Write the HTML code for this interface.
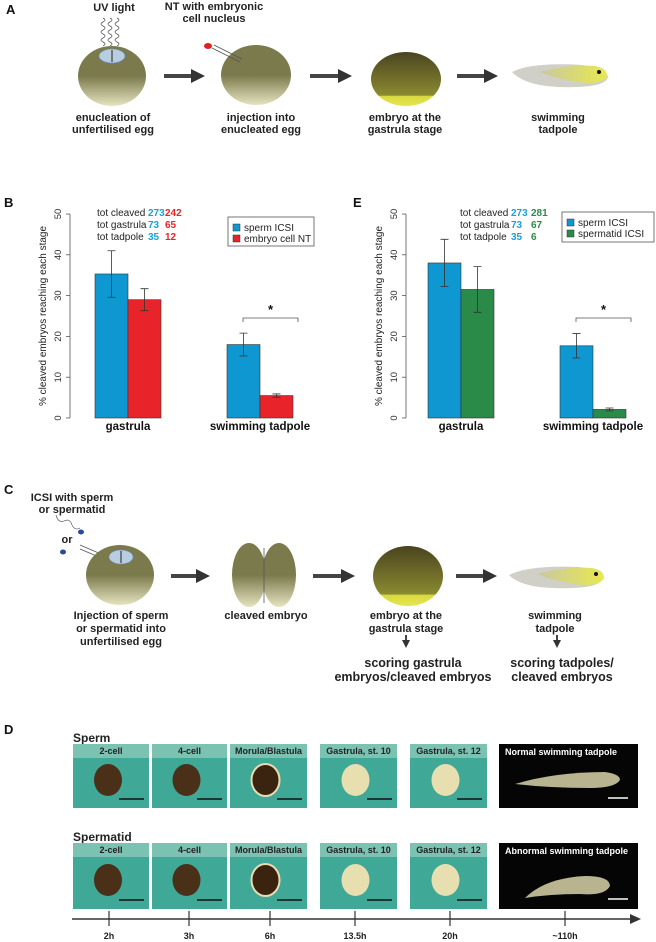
<!DOCTYPE html>
<html><head><meta charset="utf-8"><style>
html,body{margin:0;padding:0;background:#fff}
svg{display:block}
text{font-family:"Liberation Sans Narrow","Liberation Sans",sans-serif}
.lb{font-weight:bold;font-size:11px;fill:#222}
.pl{font-family:"Liberation Sans",sans-serif;font-weight:bold;font-size:13px;fill:#111}
.ax{font-family:"Liberation Sans",sans-serif;font-size:9.5px;fill:#333}
.st{font-family:"Liberation Sans",sans-serif;font-size:10px;fill:#222}
.ph{font-weight:bold;font-size:9px;fill:#222}
</style></head><body>
<svg id="fig" width="656" height="942" viewBox="0 0 656 942" xmlns="http://www.w3.org/2000/svg">
<defs>
<linearGradient id="egg" x1="0" y1="0" x2="0" y2="1"><stop offset="0" stop-color="#7b7a4c"/><stop offset="0.5" stop-color="#7b7a4c"/><stop offset="1" stop-color="#e6e4c0"/></linearGradient>
<linearGradient id="gas" x1="0" y1="0" x2="0" y2="1"><stop offset="0" stop-color="#4a4420"/><stop offset="0.8" stop-color="#8a8a30"/><stop offset="0.82" stop-color="#d8d840"/><stop offset="1" stop-color="#e6e650"/></linearGradient>
<linearGradient id="tad" x1="0" y1="0" x2="1" y2="0"><stop offset="0" stop-color="#c8c8a0"/><stop offset="1" stop-color="#e8e850"/></linearGradient>
<marker id="ah" markerUnits="userSpaceOnUse" markerWidth="14" markerHeight="14" refX="2" refY="7" orient="auto"><path d="M0,0 L14,7 L0,14 z" fill="#333"/></marker>
<marker id="ah2" markerUnits="userSpaceOnUse" markerWidth="8" markerHeight="8" refX="2" refY="4" orient="auto"><path d="M0,0 L8,4 L0,8 z" fill="#333"/></marker>
</defs>

<!-- Panel A -->
<g>
<text class="pl" x="6" y="14">A</text>
<text class="lb" x="114" y="11" text-anchor="middle">UV light</text>
<text class="lb" x="214" y="10" text-anchor="middle">NT with embryonic</text>
<text class="lb" x="214" y="22" text-anchor="middle">cell nucleus</text>
<path d="M103,18 q4,2 0,4 q-4,2 0,4 q4,2 0,4 q-4,2 0,4 q4,2 0,4 q-4,2 0,4 q4,2 0,4 M110,18 q4,2 0,4 q-4,2 0,4 q4,2 0,4 q-4,2 0,4 q4,2 0,4 q-4,2 0,4 q4,2 0,4 M117,18 q4,2 0,4 q-4,2 0,4 q4,2 0,4 q-4,2 0,4 q4,2 0,4 q-4,2 0,4 q4,2 0,4" fill="none" stroke="#555" stroke-width="0.7"/>
<ellipse cx="112" cy="76" rx="34" ry="30" fill="url(#egg)"/>
<ellipse cx="112" cy="56" rx="13" ry="7" fill="#b8cde0" stroke="#6a8fc0" stroke-width="0.6"/>
<line x1="112" y1="50" x2="112" y2="62" stroke="#222" stroke-width="1"/>
<ellipse cx="256" cy="75" rx="35" ry="30" fill="url(#egg)"/>
<line x1="212" y1="48" x2="240" y2="62" stroke="#555" stroke-width="0.8"/><line x1="214" y1="45" x2="242" y2="59" stroke="#555" stroke-width="0.8"/>
<ellipse cx="208" cy="46" rx="4" ry="3" fill="#e02020"/>
<ellipse cx="406" cy="79" rx="35" ry="27" fill="url(#gas)"/>
<path d="M512,72 q20,-10 70,-7 q25,3 26,12 q-2,9 -30,10 q-50,2 -66,-15z" fill="#d0d0c8"/>
<path d="M540,72 q30,-8 55,-6 q12,2 12,10 q-3,7 -20,7 q-25,-2 -47,-11z" fill="url(#tad)"/>
<circle cx="599" cy="72" r="2" fill="#111"/>
<g stroke="#444" stroke-width="4" marker-end="url(#ah)"><line x1="164" y1="76" x2="193" y2="76"/><line x1="310" y1="76" x2="340" y2="76"/><line x1="457" y1="76" x2="486" y2="76"/></g>
<g class="lb" text-anchor="middle">
<text x="113" y="121">enucleation of</text><text x="113" y="133">unfertilised egg</text>
<text x="261" y="121">injection into</text><text x="261" y="133">enucleated egg</text>
<text x="405" y="121">embryo at the</text><text x="405" y="133">gastrula stage</text>
<text x="558" y="121">swimming</text><text x="558" y="133">tadpole</text>
</g>
</g>

<g id="chartB"></g>
<g id="chartE"></g>

<!-- Panel C -->
<g>
<text class="pl" x="4" y="494">C</text>
<text class="lb" x="72" y="501" text-anchor="middle">ICSI with sperm</text>
<text class="lb" x="72" y="513" text-anchor="middle">or spermatid</text>
<path d="M56,515 q2,8 8,6 q6,-3 8,4 q3,6 8,3" fill="none" stroke="#444" stroke-width="0.6"/>
<ellipse cx="81" cy="532" rx="3" ry="2.5" fill="#2a4a9a"/>
<text class="lb" x="67" y="543" text-anchor="middle">or</text>
<ellipse cx="63" cy="552" rx="3" ry="2.5" fill="#2a4a9a"/>
<line x1="80" y1="545" x2="108" y2="557" stroke="#555" stroke-width="0.8"/><line x1="80" y1="549" x2="106" y2="560" stroke="#555" stroke-width="0.8"/>
<ellipse cx="120" cy="575" rx="34" ry="30" fill="url(#egg)"/>
<ellipse cx="121" cy="557" rx="12" ry="7" fill="#b8cde0" stroke="#6a8fc0" stroke-width="0.6"/>
<line x1="121" y1="551" x2="121" y2="563" stroke="#222"/>
<ellipse cx="249" cy="575" rx="17" ry="32" fill="url(#egg)"/>
<ellipse cx="279" cy="575" rx="17" ry="32" fill="url(#egg)"/>
<line x1="264" y1="548" x2="264" y2="603" stroke="#555" stroke-width="0.8"/>
<ellipse cx="408" cy="576" rx="35" ry="30" fill="url(#gas)"/>
<path d="M509,575 q20,-10 70,-8 q25,3 24,11 q-2,9 -30,10 q-50,2 -64,-13z" fill="#d0d0c8"/>
<path d="M537,574 q30,-8 55,-6 q12,2 12,10 q-3,7 -20,7 q-25,-2 -47,-11z" fill="url(#tad)"/>
<circle cx="596" cy="574" r="2" fill="#111"/>
<g stroke="#444" stroke-width="4" marker-end="url(#ah)"><line x1="171" y1="576" x2="198" y2="576"/><line x1="313" y1="576" x2="343" y2="576"/><line x1="456" y1="576" x2="485" y2="576"/></g>
<g stroke="#444" stroke-width="2" marker-end="url(#ah2)"><line x1="406" y1="635" x2="406" y2="642"/><line x1="557" y1="635" x2="557" y2="642"/></g>
<g class="lb" text-anchor="middle">
<text x="121" y="619">Injection of sperm</text><text x="121" y="632">or spermatid into</text><text x="121" y="645">unfertilised egg</text>
<text x="266" y="619">cleaved embryo</text>
<text x="406" y="619">embryo at the</text><text x="406" y="632">gastrula stage</text>
<text x="555" y="619">swimming</text><text x="555" y="632">tadpole</text>
</g>
<g font-weight="bold" font-size="12.5" fill="#222" text-anchor="middle">
<text x="413" y="667">scoring gastrula</text><text x="413" y="681">embryos/cleaved embryos</text>
<text x="562" y="667">scoring tadpoles/</text><text x="562" y="681">cleaved embryos</text>
</g>
</g>

<!-- Panel D -->
<g id="panelD">
<text class="pl" x="4" y="734">D</text>
<text x="73" y="742" font-weight="bold" font-size="12" fill="#222">Sperm</text>
<text x="73" y="841" font-weight="bold" font-size="12" fill="#222">Spermatid</text>
<line x1="72" y1="919" x2="636" y2="919" stroke="#333" stroke-width="1.5"/>
<path d="M630,914 L641,919 L630,924z" fill="#333"/>
</g>
</svg>
<script>
// Chart B data
const catsB = ["gastrula", "swimming tadpole"];
const spermB = [35.3, 18.0];
const spermErrB = [5.7, 2.8];
const ntB = [29.0, 5.5];
const ntErrB = [2.7, 0.4];
// Chart E data
const catsE = ["gastrula", "swimming tadpole"];
const spermE = [38.0, 17.7];
const spermErrE = [5.8, 3.0];
const spmtE = [31.5, 2.1];
const spmtErrE = [5.6, 0.35];
const yTicks = [0, 10, 20, 30, 40, 50];
const timeLabels = ["2h", "3h", "6h", "13.5h", "20h", "~110h"];
const photoHeaders = ["2-cell", "4-cell", "Morula/Blastula", "Gastrula, st. 10", "Gastrula, st. 12"];

const NS = "http://www.w3.org/2000/svg";
function mk(tag, attrs, parent, txt){const e=document.createElementNS(NS,tag);for(const k in attrs)e.setAttribute(k,attrs[k]);if(txt!==undefined)e.textContent=txt;parent.appendChild(e);return e;}
const y0=418, y50=214;
function yS(v){return y0-(v/50)*(y0-y50);}

function chart(g, o){
  const pl=mk("text",{class:"pl",x:o.lx,y:207},g,o.label);
  
  
  const ax=mk("line",{x1:o.axX,y1:yS(0),x2:o.axX,y2:yS(50),stroke:"#555","stroke-width":0.8},g);
  
  
  yTicks.forEach(t=>{
    mk("line",{x1:o.axX-4,y1:yS(t),x2:o.axX,y2:yS(t),stroke:"#555","stroke-width":0.8},g);
    const tx=mk("text",{class:"ax",x:o.axX-9,y:yS(t),"text-anchor":"middle",transform:`rotate(-90 ${o.axX-9} ${yS(t)})`},g,String(t));
    
    
  });
  const yt=mk("text",{class:"st",x:0,y:0,"text-anchor":"middle",transform:`translate(${o.axX-24},${(y0+y50)/2}) rotate(-90)`},g,"% cleaved embryos reaching each stage");
  
  
  const bw=33;
  const series=[[o.a[0],o.a[1],o.ca],[o.b[0],o.b[1],o.cb]];
  o.cats.forEach((c,i)=>{
    const gx=o.gx[i];
    series.forEach((s,j)=>{
      const x=gx+j*bw, v=s[0][i], e=s[1][i];
      const r=mk("rect",{x:x,y:yS(v),width:bw,height:yS(0)-yS(v),fill:s[2],stroke:"#333","stroke-width":0.6},g);
      
      
      const cx=x+bw/2;
      mk("path",{d:`M${cx},${yS(v-e)}V${yS(v+e)}M${cx-4},${yS(v-e)}H${cx+4}M${cx-4},${yS(v+e)}H${cx+4}`,stroke:"#333","stroke-width":0.8,fill:"none"},g);
    });
    const lt=mk("text",{x:gx+bw,y:430,"text-anchor":"middle","font-weight":"bold","font-size":"11.5",fill:"#111"},g,c);
    
    
  });
  const sx=o.gx[1]+16, ex=o.gx[1]+bw+38;
  mk("path",{d:`M${sx},322V318H${ex}V322`,stroke:"#555","stroke-width":0.8,fill:"none"},g);
  const s=mk("text",{x:(sx+ex)/2,y:314,"text-anchor":"middle","font-weight":"bold","font-size":"13",fill:"#111"},g,"*");
  
  
  const rows=[["tot cleaved",o.st[0]],["tot gastrula",o.st[1]],["tot tadpole",o.st[2]]];
  rows.forEach((r,k)=>{
    const yy=216+k*12;
    mk("text",{class:"st",x:o.sx,y:yy},g,r[0]);
    mk("text",{class:"st",x:o.n1,y:yy,"font-weight":"bold"},g,r[1][0]).style.fill="#1aa0d8";
    mk("text",{class:"st",x:o.n2,y:yy,"font-weight":"bold"},g,r[1][1]).style.fill=o.tc;
  });
  const lg=mk("g",{},g);
  
  
  mk("rect",{x:o.lg[0],y:o.lg[1],width:o.lg[2],height:o.lg[3],fill:"#fff",stroke:"#555","stroke-width":0.8},lg);
  mk("rect",{x:o.lg[0]+5,y:o.lg[1]+7,width:7,height:7,fill:o.ca,stroke:"#333","stroke-width":0.5},lg);
  mk("rect",{x:o.lg[0]+5,y:o.lg[1]+18,width:7,height:7,fill:o.cb,stroke:"#333","stroke-width":0.5},lg);
  mk("text",{class:"st",x:o.lg[0]+16,y:o.lg[1]+14},lg,"sperm ICSI");
  mk("text",{class:"st",x:o.lg[0]+16,y:o.lg[1]+25},lg,o.lb);
}
chart(document.getElementById("chartB"),{label:"B",lx:4,axX:70,cats:catsB,gx:[95,227],a:[spermB,spermErrB],b:[ntB,ntErrB],ca:"#0e97d0",cb:"#e8242a",nb:"embryo-cell-nt",
 st:[["273","242"],["73","65"],["35","12"]],sx:97,n1:148,n2:165,tc:"#e8242a",lg:[228,217,86,29],lb:"embryo cell NT"});
chart(document.getElementById("chartE"),{label:"E",lx:353,axX:406,cats:catsE,gx:[428,560],a:[spermE,spermErrE],b:[spmtE,spmtErrE],ca:"#0e97d0",cb:"#2a8a48",nb:"spermatid-icsi",
 st:[["273","281"],["73","67"],["35","6"]],sx:460,n1:511,n2:531,tc:"#2a8a48",lg:[562,212,92,30],lb:"spermatid  ICSI"});

const D=document.getElementById("panelD");
const px=[[73,149],[152,227],[230,307],[320,397],[410,487]];
const tickX=[109,189,270,355,450,565];
[[744,808],[843,909]].forEach((row,ri)=>{
  px.forEach((p,i)=>{
    const g=mk("g",{},D);
    
    
    mk("rect",{x:p[0],y:row[0],width:p[1]-p[0],height:row[1]-row[0],fill:"#3fa897"},g);
    mk("rect",{x:p[0],y:row[0],width:p[1]-p[0],height:14,fill:"#7cc2b2"},g);
    mk("text",{class:"ph",x:(p[0]+p[1])/2,y:row[0]+10,"text-anchor":"middle"},g,photoHeaders[i]);
    const cx=(p[0]+p[1])/2-3, cy=row[0]+14+(row[1]-row[0]-14)/2-3;
    const col=i<2?"#4a3018":(i==2?"#3a2410":"#e8dfb0");
    mk("ellipse",{cx:cx,cy:cy,rx:14,ry:16,fill:col,stroke:i==2?"#e8dcb0":"none","stroke-width":2},g);
    mk("line",{x1:p[1]-30,y1:row[1]-9,x2:p[1]-5,y2:row[1]-9,stroke:"#111","stroke-width":1.5},g);
  });
  const g=mk("g",{},D);
  
  
  mk("rect",{x:499,y:row[0],width:139,height:row[1]-row[0],fill:"#050505"},g);
  mk("text",{class:"ph",x:505,y:row[0]+11},g,ri?"Abnormal swimming tadpole":"Normal swimming tadpole").style.fill="#fff";
  mk("path",{d:ri?`M525,${row[0]+55} q20,-20 60,-22 q25,0 25,10 q-5,10 -30,8 q-30,0 -55,4z`:`M515,${row[0]+40} q40,-12 90,-12 q15,2 15,8 q-5,8 -30,8 q-40,0 -75,-4z`,fill:"#b8b490"},g);
  mk("line",{x1:608,y1:row[1]-10,x2:628,y2:row[1]-10,stroke:"#fff","stroke-width":1.5},g);
});
tickX.forEach((x,i)=>{
  mk("line",{x1:x,y1:911,x2:x,y2:926,stroke:"#333","stroke-width":1.2},D);
  const t=mk("text",{x:x,y:939,"text-anchor":"middle","font-weight":"bold","font-size":"9",fill:"#222"},D,timeLabels[i]);
  
  
});
</script>
</body></html>
